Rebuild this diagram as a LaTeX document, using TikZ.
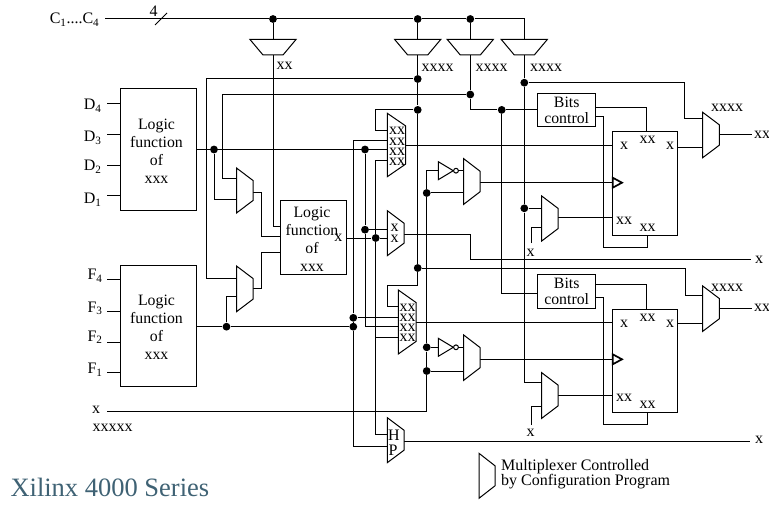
\documentclass[tikz,border=0pt]{standalone}
\usepackage{fontspec}
\setmainfont{Liberation Serif}
\definecolor{titleblue}{HTML}{3F6274}
\tikzset{
  wire/.style={line width=1pt},
  fnbox/.style={draw,line width=1pt,fill=white,inner sep=0pt},
  jdot/.style={circle,fill=black,inner sep=0pt,minimum size=7.8pt},
  lab/.style={inner sep=0pt,font=\fontsize{16}{18}\selectfont},
  boxtxt/.style={inner sep=0pt,align=center,font=\fontsize{15.8}{18}\selectfont},
}
\newcommand{\Mux}[5]{\draw[wire,fill=white] (#2,#3) coordinate (#1-nw) -- ++(#4,12.5) -- ++(0,#5-25) -- ++(-#4,12.5) -- cycle;}
\newcommand{\TopMux}[2]{\draw[wire,fill=white] (#2-23,39.5) -- (#2+23,39.5) -- (#2+10,55) -- (#2-10,55) -- cycle;
  \coordinate (#1-in) at (#2,39.5);
  \coordinate (#1-out) at (#2,55);}
\newcommand{\Inv}[3]{\draw[wire,fill=white] (#2,#3-9) -- (#2+15,#3) -- (#2,#3+9) -- cycle;
  \draw[wire,fill=white] (#2+17.7,#3) circle (2.4);
  \coordinate (#1-in) at (#2,#3);
  \coordinate (#1-out) at (#2+20.1,#3);}
\newcommand{\Clk}[2]{\draw[line width=1.7pt,fill=white] (#1,#2-5) -- (#1+9.3,#2) -- (#1,#2+5) -- cycle;}
\begin{document}
\begin{tikzpicture}[x=1pt,y=-1pt,line width=1pt]
\path[use as bounding box] (0,0) rectangle (769,508);
\coordinate (busW) at (105,19);
\coordinate (busE) at (524.3,19);
\node[jdot] (jCa) at (273,19) {};
\node[jdot] (jCb) at (417.7,19) {};
\node[jdot] (jCc) at (470.3,19) {};
\node[jdot] (jE) at (417.7,79) {};
\node[jdot] (jG) at (470.3,94.5) {};
\node[jdot] (jK) at (524.3,82.7) {};
\node[jdot] (jH) at (417.7,109.9) {};
\node[jdot] (jI) at (501.7,109.9) {};
\node[jdot] (jDo) at (214,149.5) {};
\node[jdot] (jMa) at (365,149.5) {};
\node[jdot] (jMb) at (365,229.7) {};
\node[jdot] (jMc) at (375.7,238) {};
\node[jdot] (jFo) at (226.5,326.7) {};
\node[jdot] (jFa) at (353.3,326.7) {};
\node[jdot] (jFb) at (353.3,317.8) {};
\node[jdot] (jL) at (417.7,268) {};
\node[jdot] (jClkA) at (426.7,193) {};
\node[jdot] (jClkB) at (426.7,347.3) {};
\node[jdot] (jClkC) at (426.7,371) {};
\node[jdot] (jFfA) at (524.3,208.3) {};
\coordinate (pD4) at (107,104);
\coordinate (pD3) at (107,135);
\coordinate (pD2) at (107,166);
\coordinate (pD1) at (107,196);
\coordinate (pF4) at (107,279.3);
\coordinate (pF3) at (107,311.7);
\coordinate (pF2) at (107,342.3);
\coordinate (pF1) at (107,372);
\coordinate (boxD-o) at (196,149.5);
\coordinate (boxF-o) at (196,326.7);
\coordinate (inX) at (107,411.7);
\coordinate (midA) at (280.7,226);
\coordinate (midB) at (280.7,236.5);
\coordinate (midC) at (280.7,252.3);
\coordinate (midO) at (346.7,238);
\coordinate (mxA-a) at (236.5,179);
\coordinate (mxA-b) at (236.5,200);
\coordinate (mxA-o) at (253,192.3);
\coordinate (mxB-a) at (236.5,278.7);
\coordinate (mxB-b) at (236.5,296.7);
\coordinate (mxB-o) at (253,288.3);
\coordinate (mxU-a) at (387.3,131);
\coordinate (mxU-b) at (387.3,141);
\coordinate (mxU-c) at (387.3,149.5);
\coordinate (mxU-d) at (387.3,161);
\coordinate (mxU-o) at (405.5,146);
\coordinate (mxL-a) at (398.3,306.7);
\coordinate (mxL-b) at (398.3,317.8);
\coordinate (mxL-c) at (398.3,326);
\coordinate (mxL-d) at (398.3,337.3);
\coordinate (mxL-o) at (416,322.7);
\coordinate (mxM-a) at (387.3,229.7);
\coordinate (mxM-b) at (387.3,238);
\coordinate (mxM-o) at (404,234.3);
\coordinate (mxH-a) at (387.3,434);
\coordinate (mxH-b) at (387.3,446);
\coordinate (mxH-o) at (404,441);
\coordinate (mxC1-a) at (463.7,170.7);
\coordinate (mxC1-b) at (463.7,193);
\coordinate (mxC1-o) at (480,182.7);
\coordinate (mxC2-a) at (463.7,347.3);
\coordinate (mxC2-b) at (463.7,371);
\coordinate (mxC2-o) at (480,359.3);
\coordinate (mxF1-a) at (541.7,208.3);
\coordinate (mxF1-b) at (541.7,227.7);
\coordinate (mxF1-o) at (558.2,218);
\coordinate (mxF2-a) at (541.7,382.7);
\coordinate (mxF2-b) at (541.7,406);
\coordinate (mxF2-o) at (558.2,395.3);
\coordinate (mxO1-a) at (702.7,118.7);
\coordinate (mxO1-b) at (702.7,148);
\coordinate (mxO1-o) at (719.3,135);
\coordinate (mxO2-a) at (702.7,295);
\coordinate (mxO2-b) at (702.7,323.3);
\coordinate (mxO2-o) at (719.3,308.7);
\coordinate (stubA) at (531.3,243);
\coordinate (stubB) at (531.3,425);
\coordinate (bitsA-a) at (595.7,107.7);
\coordinate (bitsA-b) at (595.7,116.7);
\coordinate (bitsB-i) at (537.7,293.3);
\coordinate (bitsB-a) at (595.7,284.3);
\coordinate (bitsB-b) at (595.7,297);
\coordinate (ffA-x) at (612.7,146);
\coordinate (ffA-c) at (612.7,182.7);
\coordinate (ffA-d) at (612.7,218);
\coordinate (ffA-t) at (646.3,131.7);
\coordinate (ffA-b) at (647.3,235.7);
\coordinate (ffA-o) at (677.3,148);
\coordinate (ffB-x) at (612.7,322.7);
\coordinate (ffB-c) at (612.7,359.3);
\coordinate (ffB-d) at (612.7,395.3);
\coordinate (ffB-t) at (646.3,309.3);
\coordinate (ffB-b) at (647.3,412.7);
\coordinate (ffB-o) at (677.3,323.3);
\coordinate (outA) at (752,135);
\coordinate (outB) at (752,308.7);
\coordinate (outM) at (751,259.3);
\coordinate (outH) at (750,441);
\TopMux{tmA}{273}
\TopMux{tmB}{417.7}
\TopMux{tmC}{470.3}
\TopMux{tmD}{524.3}
\draw[wire] (busW) -- (jCa) -- (jCb) -- (jCc) -- (busE) -- (tmD-in);
\draw[wire] (jCa) -- (tmA-in);
\draw[wire] (jCb) -- (tmB-in);
\draw[wire] (jCc) -- (tmC-in);
\draw[wire] (155,25) -- (167,13);
\draw[wire] (tmA-out) |- (midA);
\draw[wire] (tmB-out) -- (jE) -- (jH) -- (jL);
\draw[wire] (tmC-out) -- (jG);
\draw[wire] (jG) |- (jI);
\draw[wire] (tmD-out) -- (jK) -- (jFfA) |- (mxF2-a);
\draw[wire] (jE) -- ++(-211.7,0) |- (mxB-a);
\draw[wire] (jG) -- ++(-248.3,0) |- (mxA-a);
\draw[wire] (jK) -- ++(160,0) |- (mxO1-a);
\draw[wire] (jL) -- ++(268,0) |- (mxO2-a);
\draw[wire] (jL) |- ++(-30,17.7) |- (mxL-a);
\draw[wire] (jH) -- ++(-42,0) |- (mxU-a);
\draw[wire] (boxD-o) -- (jDo) -- (jMa) -- (mxU-c);
\draw[wire] (jDo) |- (mxA-b);
\draw[wire] (jMa) -- (jMb) |- (mxL-c);
\draw[wire] (jMb) -- (mxM-a);
\draw[wire] (mxU-b) -| (jFb);
\draw[wire] (jFb) -- (jFa) |- (mxH-b);
\draw[wire] (jFb) -- (mxL-b);
\draw[wire] (boxF-o) -- (jFo) -- (jFa);
\draw[wire] (jFo) |- (mxB-b);
\draw[wire] (mxU-d) -| (jMc);
\draw[wire] (jMc) |- (mxH-a);
\draw[wire] (midO) -- (jMc) -- (mxM-b);
\draw[wire] (mxL-d) -- ++(-22.6,0);
\draw[wire] (mxA-o) -- ++(8,0) |- (midB);
\draw[wire] (mxB-o) -- ++(8,0) |- (midC);
\draw[wire] (mxU-o) -- (ffA-x);
\draw[wire] (mxL-o) -- (ffB-x);
\draw[wire] (mxM-o) -- ++(66.7,0) |- (outM);
\draw[wire] (mxH-o) -- (outH);
\draw[wire] (inX) -| (jClkC) -- (jClkB) -- (jClkA);
\draw[wire] (jClkA) -- (mxC1-b);
\draw[wire] (jClkC) -- (mxC2-b);
\draw[wire] (mxC1-o) -- (ffA-c);
\draw[wire] (mxC2-o) -- (ffB-c);
\draw[wire] (jFfA) -- (mxF1-a);
\draw[wire] (stubA) |- (mxF1-b);
\draw[wire] (stubB) |- (mxF2-b);
\draw[wire] (mxF1-o) -- (ffA-d);
\draw[wire] (mxF2-o) -- (ffB-d);
\draw[wire] (bitsA-a) -| (ffA-t);
\draw[wire] (bitsA-b) -- ++(7.6,0) -- ++(0,131) -| (ffA-b);
\draw[wire] (bitsB-a) -| (ffB-t);
\draw[wire] (bitsB-b) -- ++(7.6,0) -- ++(0,127.7) -| (ffB-b);
\draw[wire] (ffA-o) -- (mxO1-b);
\draw[wire] (ffB-o) -- (mxO2-b);
\draw[wire] (mxO1-o) -- (outA);
\draw[wire] (mxO2-o) -- (outB);
\draw[wire] (jI) |- (bitsB-i);
\draw[wire] (pD4) -- (pD4 -| 120,0);
\draw[wire] (pD3) -- (pD3 -| 120,0);
\draw[wire] (pD2) -- (pD2 -| 120,0);
\draw[wire] (pD1) -- (pD1 -| 120,0);
\draw[wire] (pF4) -- (pF4 -| 120,0);
\draw[wire] (pF3) -- (pF3 -| 120,0);
\draw[wire] (pF2) -- (pF2 -| 120,0);
\draw[wire] (pF1) -- (pF1 -| 120,0);
\node[fnbox,minimum width=76pt,minimum height=121.5pt] (boxD) at (158,149.3) {};
\node[fnbox,minimum width=76pt,minimum height=121pt] (boxF) at (158,325.5) {};
\node[fnbox,minimum width=66pt,minimum height=73.3pt] (boxM) at (313.7,237.6) {};
\node[fnbox,minimum width=58pt,minimum height=33.7pt,align=center,font=\fontsize{15.8}{16}\selectfont] (bitsA) at (566.7,109.9) {Bits\\control};
\node[fnbox,minimum width=58pt,minimum height=33.7pt,align=center,font=\fontsize{15.8}{16}\selectfont] (bitsB) at (566.7,291.7) {Bits\\control};
\draw[wire] (jI) -- (bitsA.west);
\node[fnbox,minimum width=64.6pt,minimum height=104pt] (ffA) at (645,183.7) {};
\node[fnbox,minimum width=64.6pt,minimum height=103.4pt] (ffB) at (645,361) {};
\Clk{612.7}{182.7}
\Clk{612.7}{359.3}
\Mux{mxA}{236.5}{168}{16.5}{45}
\Mux{mxB}{236.5}{266}{16.5}{45.7}
\Mux{mxU}{387.3}{113.3}{18.2}{63.4}
\Mux{mxL}{398.3}{290}{17.7}{64}
\Mux{mxM}{387.3}{210.7}{16.7}{45}
\Mux{mxH}{387.3}{417.7}{16.7}{45}
\Mux{mxC1}{463.7}{158.7}{16.3}{45.6}
\Mux{mxC2}{463.7}{335}{16.3}{45.3}
\Mux{mxF1}{541.7}{196}{16.5}{45}
\Mux{mxF2}{541.7}{372.7}{16.5}{45.6}
\Mux{mxO1}{702.7}{112.3}{16.6}{45.4}
\Mux{mxO2}{702.7}{286}{16.6}{45.3}
\Mux{mxLeg}{479}{453.3}{16}{45}
\Inv{invA}{438.3}{170.7}
\Inv{invB}{438.3}{347.3}
\draw[wire] (jClkA) |- (invA-in);
\draw[wire] (jClkB) -- (invB-in);
\draw[wire] (invA-out) -- (mxC1-a);
\draw[wire] (invB-out) -- (mxC2-a);
\node[boxtxt] (txtD) at (156.5,151.5) {Logic\\function\\of\\xxx};
\node[boxtxt] (txtF) at (156.5,327.5) {Logic\\function\\of\\xxx};
\node[boxtxt] (txtM) at (312,239.5) {Logic\\function\\of\\xxx};
\node[lab,anchor=base west] (lbC) at (49.3,24) {C\textsubscript{1}....C\textsubscript{4}};
\node[lab] (lbBus) at (153.7,11) {4};
\node[lab,anchor=base west] (lbD4) at (83.3,110) {D\textsubscript{4}};
\node[lab,anchor=base west] (lbD3) at (83.3,142) {D\textsubscript{3}};
\node[lab,anchor=base west] (lbD2) at (83.3,171) {D\textsubscript{2}};
\node[lab,anchor=base west] (lbD1) at (83.3,204) {D\textsubscript{1}};
\node[lab,anchor=base west] (lbF4) at (87,279.5) {F\textsubscript{4}};
\node[lab,anchor=base west] (lbF3) at (87,312) {F\textsubscript{3}};
\node[lab,anchor=base west] (lbF2) at (87,341) {F\textsubscript{2}};
\node[lab,anchor=base west] (lbF1) at (87,373.5) {F\textsubscript{1}};
\node[lab] (lbX) at (96,410) {x};
\node[lab] (lbXs) at (112.5,428) {xxxxx};
\node[lab] (lbA) at (284.5,66) {xx};
\node[lab] (lbB) at (437.5,68) {xxxx};
\node[lab] (lbCc) at (491.5,68) {xxxx};
\node[lab] (lbDd) at (546,68) {xxxx};
\node[lab] (lbM) at (338.3,238) {x};
\node[lab] (lbU1) at (397,131) {xx};
\node[lab] (lbU2) at (397,141.7) {xx};
\node[lab] (lbU3) at (397,152) {xx};
\node[lab] (lbU4) at (397,162) {xx};
\node[lab] (lbL1) at (407.5,307.7) {xx};
\node[lab] (lbL2) at (407.5,318) {xx};
\node[lab] (lbL3) at (407.5,328) {xx};
\node[lab] (lbL4) at (407.5,338) {xx};
\node[lab] (lbM1) at (394.7,228) {x};
\node[lab] (lbM2) at (394.7,239) {x};
\node[lab] (lbH) at (394,435) {H};
\node[lab] (lbP) at (393,450) {P};
\node[lab] (lbFa1) at (624,146) {x};
\node[lab] (lbFa2) at (647.5,140) {xx};
\node[lab] (lbFa3) at (670,146) {x};
\node[lab] (lbFa4) at (624,221) {xx};
\node[lab] (lbFa5) at (647.5,228) {xx};
\node[lab] (lbFb1) at (624,324) {x};
\node[lab] (lbFb2) at (647.5,318) {xx};
\node[lab] (lbFb3) at (670,324) {x};
\node[lab] (lbFb4) at (624,398) {xx};
\node[lab] (lbFb5) at (647.5,405) {xx};
\node[lab] (lbO1) at (727,108) {xxxx};
\node[lab] (lbO2) at (727,288) {xxxx};
\node[lab] (lbOa) at (762,135) {xx};
\node[lab] (lbOb) at (762,308) {xx};
\node[lab] (lbS1) at (530.7,253) {x};
\node[lab] (lbS2) at (530.7,433) {x};
\node[lab] (lbOm) at (759,259.5) {x};
\node[lab] (lbOh) at (759,440) {x};
\node[lab,anchor=base west] (lgA) at (500.7,470) {Multiplexer Controlled};
\node[lab,anchor=base west] (lgB) at (500.7,485) {by Configuration Program};
\node[inner sep=0pt,anchor=base west,text=titleblue,font=\fontsize{26.5}{30}\selectfont] (ttl) at (10,496) {Xilinx 4000 Series};
\end{tikzpicture}
\end{document}
